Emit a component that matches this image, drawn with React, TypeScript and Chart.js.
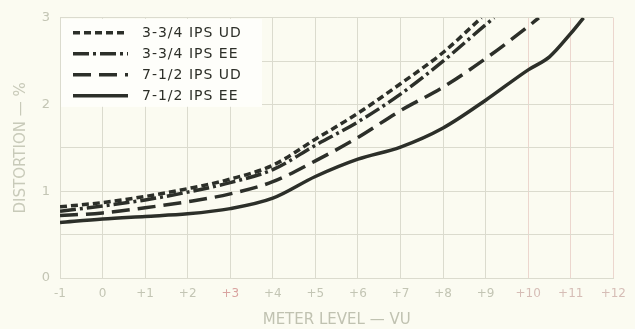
import React, { useEffect, useRef } from 'react';
import { Chart, registerables } from 'chart.js';

Chart.register(...registerables);

// ---- Data ----
const seriesLabels = ['3-3/4 IPS UD', '3-3/4 IPS EE', '7-1/2 IPS UD', '7-1/2 IPS EE'];

const levelsUD375 = [-1, 0, 1, 2, 3, 4, 5, 6, 7, 8, 8.9];
const distUD375 = [0.82, 0.87, 0.94, 1.03, 1.14, 1.3, 1.6, 1.9, 2.24, 2.6, 3.0];

const levelsEE375 = [-1, 0, 1, 2, 3, 4, 5, 6, 7, 8, 9, 9.2];
const distEE375 = [0.77, 0.83, 0.9, 0.99, 1.1, 1.25, 1.53, 1.8, 2.12, 2.5, 2.92, 3.0];

const levelsUD75 = [-1, 0, 1, 2, 3, 4, 5, 6, 7, 8, 9, 10, 10.25];
const distUD75 = [0.72, 0.75, 0.81, 0.88, 0.97, 1.11, 1.35, 1.62, 1.93, 2.2, 2.53, 2.9, 3.0];

const levelsEE75 = [-1, 0, 1, 2, 3, 4, 5, 6, 7, 8, 9, 10, 10.5, 11, 11.3];
const distEE75 = [0.64, 0.68, 0.71, 0.74, 0.8, 0.92, 1.17, 1.37, 1.51, 1.73, 2.05, 2.4, 2.55, 2.82, 3.0];

const xTickLabels = ['-1', '0', '+1', '+2', '+3', '+4', '+5', '+6', '+7', '+8', '+9', '+10', '+11', '+12'];
const yTickLabels = ['0', '1', '2', '3'];

const xTitle = 'METER LEVEL — VU';
const yTitle = 'DISTORTION — %';

const pinkTicks = ['+3', '+10', '+11', '+12'];

export default function App() {
  const ref = useRef<HTMLCanvasElement>(null);

  useEffect(() => {
    document.body.style.margin = '0';
    document.body.style.background = '#fbfbf1';
    const canvas = ref.current;
    if (!canvas) return;

    const pts = (xs: number[], ys: number[]) => xs.map((x, i) => ({ x, y: ys[i] }));
    const lineColor = '#2c2f29';
    const gridColor = '#dbdbce';
    const tickColor = '#c3c5b4';

    const boxLegend = {
      id: 'boxLegend',
      beforeDatasetsDraw(chart: any) {
        const { ctx, chartArea } = chart;
        const x0 = chartArea.left;
        const y0 = chartArea.top;
        ctx.save();
        ctx.fillStyle = '#fefefa';
        ctx.fillRect(x0 + 1, y0 + 1, 201, 88);
        chart.data.datasets.forEach((ds: any, i: number) => {
          const y = y0 + 15 + i * 21;
          ctx.beginPath();
          ctx.setLineDash(ds.borderDash || []);
          ctx.lineWidth = ds.borderWidth;
          ctx.strokeStyle = ds.borderColor;
          ctx.lineCap = 'butt';
          ctx.moveTo(x0 + 13, y);
          ctx.lineTo(x0 + 68, y);
          ctx.stroke();
          ctx.setLineDash([]);
          ctx.fillStyle = '#2d2f28';
          ctx.font = '500 14px "DejaVu Sans"';
          ctx.textBaseline = 'middle';
          ctx.textAlign = 'left';
          (ctx as any).letterSpacing = '1px';
          ctx.fillText(ds.label, x0 + 82, y + 1);
        });
        ctx.restore();
      },
    };

    const chart = new Chart(canvas, {
      type: 'line',
      data: {
        datasets: [
          {
            label: seriesLabels[0],
            data: pts(levelsUD375, distUD375),
            borderColor: lineColor,
            borderWidth: 3.5,
            borderDash: [7, 4],
          },
          {
            label: seriesLabels[1],
            data: pts(levelsEE375, distEE375),
            borderColor: lineColor,
            borderWidth: 3.5,
            borderDash: [16, 4, 3, 4],
          },
          {
            label: seriesLabels[2],
            data: pts(levelsUD75, distUD75),
            borderColor: lineColor,
            borderWidth: 3.5,
            borderDash: [18, 8],
          },
          {
            label: seriesLabels[3],
            data: pts(levelsEE75, distEE75),
            borderColor: lineColor,
            borderWidth: 3.5,
          },
        ] as any,
      },
      options: {
        animation: false,
        responsive: false,
        devicePixelRatio: 1,
        layout: { padding: { top: 17, right: 12, left: 0, bottom: 0 } },
        elements: {
          point: { radius: 0 },
          line: { tension: 0, cubicInterpolationMode: 'monotone', fill: false },
        },
        plugins: {
          legend: { display: false },
          tooltip: { enabled: false },
        },
        scales: {
          x: {
            type: 'linear',
            min: -1,
            max: 12,
            ticks: {
              stepSize: 1,
              autoSkip: false,
              maxRotation: 0,
              padding: 9,
              color: (c: any) => {
                const lbl = xTickLabels[Math.round(c.tick.value) + 1];
                return pinkTicks.includes(lbl) ? (lbl === '+3' ? '#d9a3a0' : '#d6bdb6') : tickColor;
              },
              font: { family: 'DejaVu Sans', size: 12 },
              callback: (v: any) => xTickLabels[Math.round(Number(v)) + 1],
            },
            grid: {
              color: (c: any) => (c.tick && c.tick.value >= 10 ? '#ecd6ce' : gridColor),
              drawTicks: false,
              lineWidth: 1,
            },
            border: { color: gridColor },
            title: {
              display: true,
              text: xTitle,
              color: '#c0c2b1',
              font: { family: 'DejaVu Sans', size: 15 },
              padding: { top: 4, bottom: 0 },
            },
            afterFit: (s: any) => {
              s.height = 51;
            },
          },
          y: {
            type: 'linear',
            min: 0,
            max: 3,
            ticks: {
              stepSize: 0.5,
              padding: 10,
              color: tickColor,
              font: { family: 'DejaVu Sans', size: 13 },
              callback: (v: any) => (Number.isInteger(Number(v)) ? yTickLabels[Number(v)] : ''),
            },
            grid: { color: gridColor, drawTicks: false, lineWidth: 1 },
            border: { color: gridColor },
            title: {
              display: true,
              text: yTitle,
              color: '#c8cab9',
              font: { family: 'DejaVu Sans', size: 15 },
              padding: { top: 12, bottom: 0 },
            },
            afterFit: (s: any) => {
              s.width = 60;
            },
          },
        },
      } as any,
      plugins: [boxLegend],
    });

    return () => chart.destroy();
  }, []);

  return (
    <div style={{ width: 635, height: 329, background: '#fbfbf1' }}>
      <canvas ref={ref} width={635} height={329} style={{ display: 'block' }} />
    </div>
  );
}
